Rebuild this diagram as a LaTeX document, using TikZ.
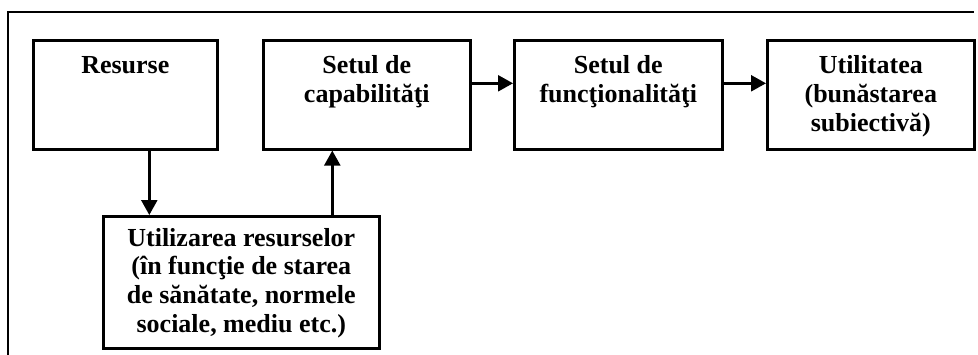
\documentclass[tikz,border=0pt]{standalone}
\usepackage{fontspec}
\setmainfont{Liberation Serif}
\usetikzlibrary{arrows.meta}
\newcommand{\boxtxt}[4]{\parbox[c][#2pt][t]{#1pt}{\centering\fontsize{26}{28.6}\selectfont\bfseries\rule{0pt}{#3pt}#4}}
\tikzset{
  bx/.style={draw, line width=2.6pt, inner sep=0pt, anchor=north west},
  arr/.style={line width=2.4pt, -{Triangle[length=15pt,width=16pt]}}
}
\begin{document}
\begin{tikzpicture}[x=1pt,y=-1pt]
\useasboundingbox (0,0) rectangle (978,354);
\draw[line width=2.6pt] (8,356) -- (8,12) -- (974,12);
\node[bx] (res) at (32,39) {\boxtxt{184}{109}{33.5}{Resurse}};
\node[bx] (cap) at (262,39) {\boxtxt{207}{109}{33.5}{Setul de\\capabilităţi}};
\node[bx] (fun) at (513,39) {\boxtxt{208}{109}{33.5}{Setul de\\funcţionalităţi}};
\node[bx] (uti) at (766,39) {\boxtxt{207}{109}{33.5}{Utilitatea\\(bunăstarea\\subiectivă)}};
\node[bx] (use) at (102,215) {\boxtxt{276}{132}{30}{Utilizarea resurselor\\(în funcţie de starea\\de sănătate, normele\\sociale, mediu etc.)}};
\draw[arr] ([xshift=24pt]res.south) -- ([xshift=24pt]res.south |- use.north);
\draw[arr] ([xshift=-34.5pt]cap.south |- use.north) -- ([xshift=-34.5pt]cap.south);
\draw[arr] ([yshift=11.5pt]cap.east) -- ([yshift=11.5pt]fun.west);
\draw[arr] ([yshift=11.5pt]fun.east) -- ([yshift=11.5pt]uti.west);
\end{tikzpicture}
\end{document}
